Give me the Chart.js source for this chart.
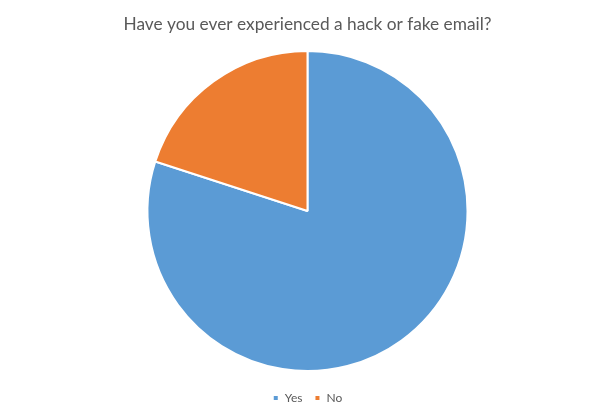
<!DOCTYPE html>
<html>
<head>
<meta charset="utf-8">
<script src="https://cdn.jsdelivr.net/npm/chart.js@4/dist/chart.umd.min.js"></script>
<style>
html,body{margin:0;padding:0;background:#fff;}
#wrap{width:615px;height:418px;position:relative;}
</style>
</head>
<body>
<div id="wrap"><canvas id="c" width="615" height="418"></canvas></div>
<script>
const categories = ["Yes", "No"];
const values = [80, 20];
const colors = ["#5B9BD5", "#ED7D31"];
const titleText = "Have you ever experienced a hack or fake email?";

const legendShift = {
  id: 'legendShift',
  afterLayout(chart) {
    if (chart.legend) {
      chart.legend.top += 8;
      chart.legend.bottom += 8;
    }
  }
};

new Chart(document.getElementById('c'), {
  type: 'pie',
  data: {
    labels: categories,
    datasets: [{
      data: values,
      backgroundColor: colors,
      borderColor: '#ffffff',
      borderWidth: 2
    }]
  },
  plugins: [legendShift],
  options: {
    responsive: false,
    animation: false,
    layout: { padding: { top: 0, bottom: 12, left: 0, right: 0 } },
    plugins: {
      title: {
        display: true,
        text: titleText,
        color: '#595959',
        font: { family: 'Lato', size: 17.3, weight: 'normal' },
        padding: { top: 14.4, bottom: 14.8 }
      },
      legend: {
        display: true,
        position: 'bottom',
        labels: {
          color: '#595959',
          font: { family: 'Lato', size: 12 },
          boxWidth: 6,
          boxHeight: 6,
          padding: 12
        }
      },
      tooltip: { enabled: false }
    }
  }
});
</script>
</body>
</html>
